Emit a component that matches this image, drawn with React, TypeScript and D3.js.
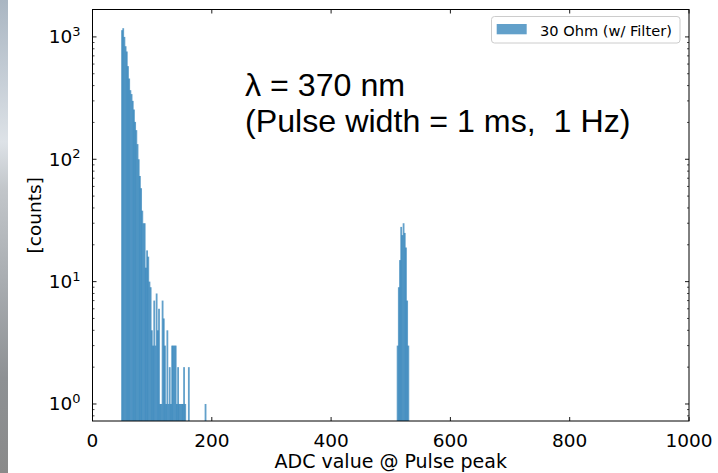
import React from "react";
import * as d3 from "d3";

// ---- data ----
const binWidth = 2;
const clusterLeft = [
  48, 50, 52, 54, 56, 58, 60, 62, 64, 66, 68, 70, 72, 74, 76, 78, 80, 82, 84, 86,
  88, 90, 92, 94, 96, 98, 100, 102, 104, 106, 108, 110, 112, 114, 116, 118, 120,
  122, 124, 126, 128, 130, 132, 134, 136, 138, 140, 142, 144, 146, 148, 150, 152,
  154, 160, 188,
];
const clusterCounts = [
  1135, 1178, 1000, 839, 760, 577, 457, 367, 341, 300, 255, 202, 173, 133, 100, 73,
  58, 38, 30, 30, 13, 18, 16, 10, 9, 4, 3, 7, 3, 8, 4, 6, 1, 1, 7, 5, 3, 1, 4, 1, 2,
  1, 3, 3, 3, 3, 1, 2, 1, 1, 1, 1, 2, 1, 2, 1,
];
const peakLeft = [510, 512, 514, 516, 518, 520, 522, 524, 526, 528];
const peakCounts = [3, 9, 15, 28, 24, 30, 25, 19, 7, 3];

const xTicks = [0, 200, 400, 600, 800, 1000];
const yTickExps = [0, 1, 2, 3];
const legendLabel = "30 Ohm (w/ Filter)";
const annotationLines = ["λ = 370 nm", "(Pulse width = 1 ms,  1 Hz)"];
const xLabel = "ADC value @ Pulse peak";
const yLabel = "[counts]";

const W = 718;
const H = 473;
const L = 92.5;
const R = 689;
const T = 9.5;
const B = 421;

export default function App() {
  const x = d3.scaleLinear().domain([0, 1000]).range([L, R]);
  const y = d3.scaleLog().domain([0.726, 1675]).range([B, T]);

  const bars = [
    ...clusterLeft.map((l, i) => ({ l, c: clusterCounts[i] })),
    ...peakLeft.map((l, i) => ({ l, c: peakCounts[i] })),
  ].filter((d) => d.c > 0);

  const minor: number[] = [];
  for (let e = -1; e <= 3; e++) {
    for (let m = 2; m <= 9; m++) {
      const v = m * Math.pow(10, e);
      if (v > 0.726 && v < 1675) minor.push(v);
    }
  }

  const tickFont = "DejaVu Sans, sans-serif";
  const fs = 18.5;

  return (
    <svg
      width={W}
      height={H}
      style={{ position: "absolute", left: 0, top: 0, background: "#fff" }}
    >
      <defs>
        <linearGradient id="edge" x1="0" y1="0" x2="0" y2="1">
          <stop offset="0" stopColor="#aab6c2" />
          <stop offset="0.18" stopColor="#c8d0d8" />
          <stop offset="0.3" stopColor="#dde2e7" />
          <stop offset="0.4" stopColor="#c2c6ca" />
          <stop offset="0.6" stopColor="#a8acb0" />
          <stop offset="0.8" stopColor="#8e9194" />
          <stop offset="1" stopColor="#8a8a8a" />
        </linearGradient>
      </defs>
      <rect x={0} y={0} width={W} height={H} fill="#fff" />
      <rect x={0} y={0} width={8} height={H} fill="url(#edge)" />

      {/* bars */}
      <g>
        {bars.map((d, i) => {
          const x0 = x(d.l);
          const x1 = x(d.l + binWidth);
          const yt = y(d.c);
          return (
            <rect
              key={i}
              x={x0}
              y={yt}
              width={x1 - x0 + 0.6}
              height={B - yt}
              fill="#1f77b4"
              fillOpacity={0.7}
            />
          );
        })}
      </g>

      {/* spines */}
      <rect x={L} y={T} width={R - L} height={B - T} fill="none" stroke="#000" strokeWidth={1} />

      {/* x ticks (inward, bottom & top) */}
      {xTicks.map((t) => (
        <g key={t}>
          <line x1={x(t)} x2={x(t)} y1={B} y2={B - 4} stroke="#000" strokeWidth={0.9} />
          <line x1={x(t)} x2={x(t)} y1={T} y2={T + 4} stroke="#000" strokeWidth={0.9} />
          <text
            x={x(t)}
            y={447}
            textAnchor="middle"
            fontFamily={tickFont}
            fontSize={fs}
            fill="#000"
          >
            {t}
          </text>
        </g>
      ))}

      {/* y major ticks */}
      {yTickExps.map((e) => {
        const yy = y(Math.pow(10, e));
        return (
          <g key={e}>
            <line x1={L} x2={L + 4} y1={yy} y2={yy} stroke="#000" strokeWidth={0.9} />
            <line x1={R} x2={R - 4} y1={yy} y2={yy} stroke="#000" strokeWidth={0.9} />
            <text
              x={80.5}
              y={yy + 6.5}
              textAnchor="end"
              fontFamily={tickFont}
              fontSize={fs}
              fill="#000"
            >
              10
              <tspan dy={-7.5} fontSize={13}>
                {e}
              </tspan>
            </text>
          </g>
        );
      })}
      {/* y minor ticks */}
      {minor.map((v, i) => {
        const yy = y(v);
        return (
          <g key={"m" + i}>
            <line x1={L} x2={L + 2} y1={yy} y2={yy} stroke="#000" strokeWidth={0.7} />
            <line x1={R} x2={R - 2} y1={yy} y2={yy} stroke="#000" strokeWidth={0.7} />
          </g>
        );
      })}

      {/* axis labels */}
      <text
        x={(L + R) / 2}
        y={468}
        textAnchor="middle"
        fontFamily={tickFont}
        fontSize={19}
        fill="#000"
      >
        {xLabel}
      </text>
      <text
        transform={`translate(41, ${(T + B) / 2}) rotate(-90)`}
        textAnchor="middle"
        fontFamily={tickFont}
        fontSize={fs}
        fill="#000"
      >
        {yLabel}
      </text>

      {/* annotation */}
      <text
        fontFamily="Liberation Sans, Arial, sans-serif"
        fontSize={32.2}
        fill="#000"
        style={{ whiteSpace: "pre" }}
        xmlSpace="preserve"
      >
        <tspan x={245} y={96}>
          {annotationLines[0]}
        </tspan>
        <tspan x={245} y={132}>
          {annotationLines[1]}
        </tspan>
      </text>

      {/* legend */}
      <rect
        x={491.5}
        y={16.5}
        width={188.5}
        height={26.5}
        rx={3}
        fill="#fff"
        fillOpacity={0.8}
        stroke="#cccccc"
        strokeWidth={1}
      />
      <rect x={496.7} y={24} width={30} height={10.3} fill="#1f77b4" fillOpacity={0.7} />
      <text x={540} y={36} fontFamily={tickFont} fontSize={14.6} fill="#000">
        {legendLabel}
      </text>
    </svg>
  );
}
